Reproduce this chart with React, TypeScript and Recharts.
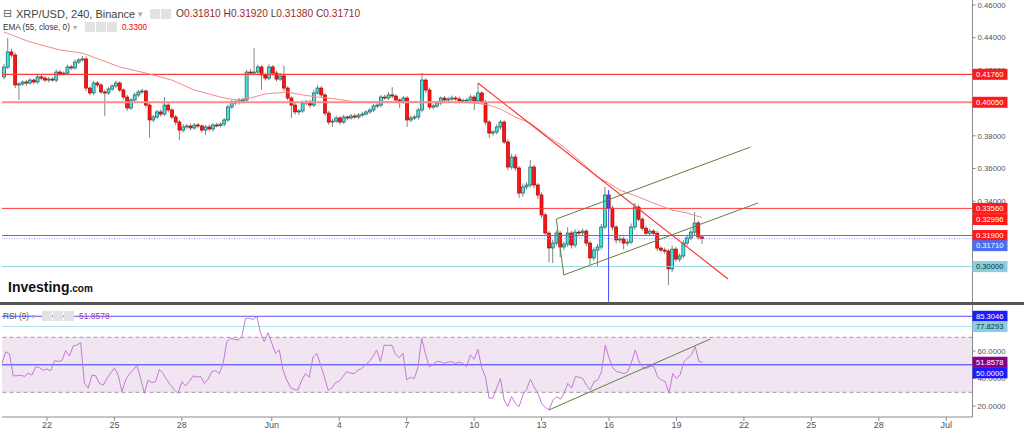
import React from "react";
import { ComposedChart, Bar, Line, XAxis, YAxis, ReferenceLine, ReferenceArea } from "recharts";

// 4h candles, index 0 = May 20 00:00
const FIRST_OPEN = 0.416;
const CLOSE = [
  0.4220, 0.4313, 0.4294, 0.4111, 0.4117, 0.4129, 0.4123, 0.4141, 0.4129, 0.4160,
  0.4153, 0.4141, 0.4147, 0.4141, 0.4190, 0.4178, 0.4184, 0.4221, 0.4215, 0.4251,
  0.4264, 0.4270, 0.4092, 0.4062, 0.4123, 0.4111, 0.4068, 0.4062, 0.4086, 0.4105,
  0.4123, 0.4080, 0.4037, 0.3970, 0.4019, 0.4050, 0.4068, 0.4074, 0.3988, 0.3897,
  0.3915, 0.3946, 0.3933, 0.3988, 0.3958, 0.3915, 0.3884, 0.3835, 0.3854, 0.3860,
  0.3848, 0.3866, 0.3860, 0.3835, 0.3854, 0.3842, 0.3866, 0.3862, 0.3872, 0.3897,
  0.3976, 0.4007, 0.4003, 0.4013, 0.4019, 0.4190, 0.4184, 0.4190, 0.4221, 0.4172,
  0.4153, 0.4221, 0.4184, 0.4147, 0.4166, 0.4092, 0.4031, 0.3988, 0.3946, 0.3952,
  0.4001, 0.4007, 0.3988, 0.4062, 0.4092, 0.4050, 0.3939, 0.3884, 0.3890, 0.3909,
  0.3884, 0.3915, 0.3909, 0.3921, 0.3915, 0.3927, 0.3933, 0.3946, 0.3958, 0.3982,
  0.3988, 0.4037, 0.4031, 0.4050, 0.4043, 0.4019, 0.4007, 0.4031, 0.3897, 0.3909,
  0.3915, 0.3958, 0.4141, 0.4080, 0.3976, 0.3982, 0.4001, 0.4031, 0.4019, 0.4025,
  0.4031, 0.4025, 0.4013, 0.4017, 0.4019, 0.4037, 0.4013, 0.4062, 0.4007, 0.3884,
  0.3817, 0.3823, 0.3854, 0.3884, 0.3762, 0.3609, 0.3670, 0.3603, 0.3450, 0.3487,
  0.3499, 0.3609, 0.3499, 0.3438, 0.3316, 0.3205, 0.3114, 0.3144, 0.3205, 0.3120,
  0.3138, 0.3205, 0.3132, 0.3211, 0.3207, 0.3217, 0.3144, 0.3053, 0.3101, 0.3120,
  0.3242, 0.3438, 0.3358, 0.3242, 0.3163, 0.3169, 0.3144, 0.3150, 0.3242, 0.3364,
  0.3290, 0.3235, 0.3204, 0.3217, 0.3204, 0.3113, 0.3101, 0.3095, 0.2986, 0.3107,
  0.3046, 0.3065, 0.3144, 0.3175, 0.3211, 0.3267, 0.3181, 0.3171,
];
// wick lengths above / below the body, in 0.0001
const WICK_UP = [
  18, 85, 20, 15, 12, 10, 14, 12, 10, 15,
  12, 10, 14, 12, 16, 12, 10, 14, 12, 15,
  12, 18, 15, 10, 14, 12, 10, 14, 12, 10,
  15, 12, 10, 14, 12, 16, 12, 15, 10, 12,
  14, 12, 15, 49, 12, 10, 14, 12, 18, 12,
  15, 12, 14, 10, 12, 15, 12, 14, 10, 12,
  14, 12, 16, 18, 12, 14, 20, 147, 15, 12,
  14, 16, 12, 14, 18, 61, 12, 10, 14, 12,
  15, 12, 14, 20, 18, 12, 10, 14, 12, 15,
  12, 14, 10, 12, 15, 12, 14, 10, 12, 15,
  14, 12, 15, 18, 48, 12, 10, 14, 12, 15,
  12, 14, 43, 12, 15, 14, 12, 10, 14, 12,
  15, 12, 14, 10, 12, 15, 12, 61, 10, 12,
  14, 12, 15, 14, 12, 16, 20, 18, 12, 22,
  18, 43, 14, 12, 16, 14, 12, 20, 18, 14,
  16, 37, 14, 18, 15, 16, 12, 14, 16, 18,
  20, 49, 26, 14, 12, 16, 14, 18, 22, 25,
  14, 12, 16, 14, 12, 14, 12, 16, 14, 22,
  14, 16, 18, 20, 16, 67, 14, 11,
];
const WICK_DN = [
  15, 12, 14, 20, 91, 12, 18, 10, 14, 12,
  14, 12, 15, 10, 14, 12, 10, 14, 12, 10,
  12, 10, 18, 14, 12, 15, 12, 140, 12, 10,
  14, 12, 15, 18, 12, 10, 14, 12, 16, 110,
  14, 12, 16, 12, 14, 12, 18, 61, 14, 12,
  15, 12, 14, 16, 30, 12, 14, 10, 12, 14,
  12, 10, 14, 12, 15, 16, 12, 14, 12, 90,
  14, 12, 16, 14, 12, 18, 14, 79, 16, 20,
  12, 14, 16, 12, 10, 14, 18, 16, 30, 12,
  16, 12, 14, 10, 12, 14, 12, 10, 12, 14,
  12, 14, 10, 12, 14, 16, 37, 12, 43, 14,
  12, 16, 14, 18, 16, 14, 12, 14, 10, 12,
  14, 12, 15, 10, 12, 14, 55, 12, 14, 18,
  30, 16, 14, 18, 14, 20, 16, 18, 30, 22,
  18, 16, 20, 25, 18, 20, 86, 92, 16, 62,
  20, 18, 22, 16, 18, 14, 20, 43, 18, 103,
  16, 14, 18, 20, 22, 18, 40, 16, 14, 18,
  14, 16, 12, 14, 16, 18, 14, 16, 99, 20,
  16, 18, 14, 16, 14, 18, 16, 33,
];
const RSI = [
  51, 59.5, 58, 42, 42, 42.5, 41.5, 44, 42.5, 48.5,
  48, 46, 47, 45.6, 53, 52.5, 53, 60.3, 56.4, 63.7,
  64.4, 66, 36.5, 33, 42.5, 42, 36.5, 35.3, 40, 44,
  47.8, 42.5, 30.5, 39, 43.6, 46, 49.8, 40, 29.3, 39,
  37, 37.8, 46.6, 43.6, 39, 35.3, 31.7, 29.3, 37.8, 34.6,
  38, 42, 41, 41.5, 36.5, 39.5, 45, 45.8, 43.6, 51,
  66.8, 69.3, 68.5, 68, 70.5, 83.8, 83.8, 83, 85, 73,
  66.8, 73.4, 65.6, 58.4, 60.8, 46, 39, 33.5, 32, 31.7,
  39, 43.6, 41, 55.7, 58.4, 50, 41.5, 31.7, 33, 37,
  38, 41.5, 45, 44, 43.6, 46, 47.4, 50, 52.3, 56,
  60.8, 52.3, 64.4, 64, 64.4, 58, 55, 58.4, 39, 41,
  40, 48, 69.3, 58, 48.6, 50, 52.3, 52.3, 51, 52,
  52.3, 51, 52, 51, 48.6, 57.2, 54, 61.3, 48, 41.5,
  25.7, 25.7, 33, 40, 24.5, 19.6, 26.9, 22, 19.6, 28,
  32, 39.5, 34, 29.3, 22, 19, 17.2, 24, 26.9, 25,
  29.3, 36.5, 33, 41.5, 41, 40, 35, 31.7, 37.8, 39,
  45, 64.4, 55, 48, 45, 44.5, 43.6, 45, 52, 60.8,
  52.3, 48, 47.4, 49, 48.6, 41, 39, 37.8, 29.3, 43.6,
  40, 43, 52.3, 55, 57.2, 63.2, 52.3, 51.86,
];
const EMA_AT = [0, 7, 15, 21, 26, 31, 38, 45, 51, 58, 62, 66, 70, 76, 80, 84, 89, 94, 106, 117, 126, 130, 133, 137, 141, 146, 150, 155, 159, 162, 165, 170, 174, 179, 183, 187];
const EMA = [0.4435, 0.4374, 0.4325, 0.4306, 0.4264, 0.4221, 0.4184, 0.4141, 0.4080, 0.4037, 0.4019, 0.4031, 0.4056, 0.4068, 0.4050, 0.4037, 0.4025, 0.4007, 0.4007, 0.4007, 0.4001, 0.3988, 0.3964, 0.3915, 0.3878, 0.3793, 0.3731, 0.3634, 0.3548, 0.3511, 0.3468, 0.3426, 0.3389, 0.3346, 0.3328, 0.3300];

const SLOTS = 260;
const DATE_AT = [12, 30, 48, 72, 90, 108, 126, 144, 162, 180, 198, 216, 234, 252];
const DATE_TXT = ["22", "25", "28", "Jun", "4", "7", "10", "13", "16", "19", "22", "25", "28", "Jul"];
// price ticks that are not hidden behind the level tags
const PRICE_TICKS = [0.28, 0.34, 0.36, 0.38, 0.42, 0.44, 0.46];
const RSI_TICKS = [20, 40, 60];

const data: any[] = Array.from({ length: SLOTS }, (_, i) => {
  if (i >= CLOSE.length) return { i };
  const o = i === 0 ? FIRST_OPEN : CLOSE[i - 1];
  const c = CLOSE[i];
  const h = Math.max(o, c) + WICK_UP[i] / 10000;
  const l = Math.min(o, c) - WICK_DN[i] / 10000;
  return { i, o, c, h, l, range: [l, h], rsi: RSI[i] };
});
EMA_AT.forEach((k, j) => { data[k].ema = EMA[j]; });

const FONT = "'Liberation Sans', Arial, sans-serif";
const W = 1024;
const MARGIN = { top: 0, right: 0, bottom: 0, left: 2 };
const AXIS_W = 51.5;
const OVER_MARGIN = { top: 0, right: AXIS_W, bottom: 0, left: 2 };
const PRICE_DOMAIN = [0.27835, 0.46306];
const RSI_DOMAIN = [12.04, 93.49];

function Candle(props: any) {
  const { x, y, width, height, payload } = props;
  if (!payload || payload.h == null) return null;
  const { o, c, h, l } = payload;
  const top = Math.min(y, y + height);
  const hh = Math.abs(height);
  const cx = x + width / 2;
  const k = hh / (h - l);
  const yO = top + (h - o) * k;
  const yC = top + (h - c) * k;
  const up = c >= o;
  const bt = Math.min(yO, yC);
  const bh = Math.max(Math.abs(yO - yC), 1);
  return (
    <g>
      <line x1={cx} x2={cx} y1={top} y2={top + hh} stroke="#7c8a7c" strokeWidth={1} />
      <rect x={cx - 1.5} y={bt} width={3} height={bh}
        fill={up ? "#3fe6e6" : "#ff1414"} stroke={up ? "#235555" : "#b30000"} strokeWidth={0.7} />
    </g>
  );
}

function Tag(props: any) {
  const { viewBox, text, bg, fg = "#fff", dy = 0 } = props;
  if (!viewBox) return null;
  const x = viewBox.x + viewBox.width;
  const y = viewBox.y + dy;
  return (
    <g>
      <rect x={x} y={y - 5.5} width={35} height={11} fill={bg} />
      <text x={x + 3.5} y={y + 2.8} fill={fg} fontSize={7.6} fontFamily={FONT}>{text}</text>
    </g>
  );
}

function Icons({ n, left, top }: { n: number; left: number; top: number }) {
  return (
    <div style={{ position: "absolute", left, top, display: "flex", gap: 1 }}>
      {Array.from({ length: n }, (_, k) => (
        <span key={k} style={{ width: 10, height: 10, background: "#e2e2e2", display: "inline-block" }} />
      ))}
    </div>
  );
}

const abs = (left: number, top: number, extra: any = {}) =>
  ({ position: "absolute", left, top, whiteSpace: "nowrap", ...extra } as React.CSSProperties);

export default function App() {
  const tick = { fill: "#555", fontSize: 7.8, fontFamily: FONT };
  const val = { color: "#9b2a2a" };
  return (
    <div style={{ position: "absolute", left: 0, top: 0, width: W, height: 431, background: "#fff", fontFamily: FONT, overflow: "hidden" }}>
      {/* price panel */}
      <ComposedChart width={W} height={302} data={data} margin={MARGIN} barCategoryGap={0} style={{ position: "absolute", left: 0, top: 0 }}>
        <XAxis dataKey="i" hide />
        <YAxis orientation="right" width={AXIS_W} domain={PRICE_DOMAIN} allowDataOverflow ticks={PRICE_TICKS}
          tickFormatter={(v: number) => v.toFixed(5)} tick={tick} tickSize={3} tickMargin={2}
          axisLine={{ stroke: "#8a8a8a" }} tickLine={{ stroke: "#8a8a8a" }} />
        <ReferenceLine y={0.4176} stroke="#ff3b3b" strokeWidth={1.3} />
        <ReferenceLine y={0.4005} stroke="#ff8a8a" strokeWidth={2} />
        <ReferenceLine y={0.3356} stroke="#ff3b3b" strokeWidth={1} />
        <ReferenceLine y={0.319} stroke="#ff3b3b" strokeWidth={1} />
        <ReferenceLine y={0.3171} stroke="#8ea2ff" strokeDasharray="1 1.5" />
        <ReferenceLine y={0.3} stroke="#8fd3e2" strokeWidth={1} />
        <ReferenceLine segment={[{ x: 162, y: 0.3469 }, { x: 162, y: 0.2785 }]} stroke="#4a4aff" strokeWidth={1} />
        <Bar dataKey="range" shape={<Candle />} isAnimationActive={false} />
        <Line dataKey="ema" stroke="#f48a8a" strokeWidth={1} dot={false} connectNulls isAnimationActive={false} />
        <ReferenceLine segment={[{ x: 127, y: 0.4123 }, { x: 194, y: 0.2924 }]} stroke="#ff2e2e" strokeWidth={1.1} />
        <ReferenceLine segment={[{ x: 148, y: 0.3291 }, { x: 200, y: 0.3731 }]} stroke="#5f7f45" strokeWidth={1} />
        <ReferenceLine segment={[{ x: 150, y: 0.2949 }, { x: 202, y: 0.3389 }]} stroke="#5f7f45" strokeWidth={1} />
        <ReferenceLine segment={[{ x: 148, y: 0.3291 }, { x: 150, y: 0.2949 }]} stroke="#5f7f45" strokeWidth={1} />
      </ComposedChart>
      {/* price tags, drawn over the axis labels */}
      <ComposedChart width={W} height={302} data={data} margin={OVER_MARGIN} style={{ position: "absolute", left: 0, top: 0 }}>
        <XAxis dataKey="i" hide />
        <YAxis hide domain={PRICE_DOMAIN} allowDataOverflow />
        <ReferenceLine y={0.4176} strokeOpacity={0} label={<Tag text="0.41760" bg="#ff1a1a" />} />
        <ReferenceLine y={0.4005} strokeOpacity={0} label={<Tag text="0.40050" bg="#ff1a1a" />} />
        <ReferenceLine y={0.3356} strokeOpacity={0} label={<Tag text="0.33560" bg="#ff1a1a" />} />
        <ReferenceLine y={0.33} strokeOpacity={0} label={<Tag text="0.32996" bg="#ff1a1a" dy={2} />} />
        <ReferenceLine y={0.319} strokeOpacity={0} label={<Tag text="0.31900" bg="#ff1a1a" />} />
        <ReferenceLine y={0.3171} strokeOpacity={0} label={<Tag text="0.31710" bg="#4a6ef0" dy={7} />} />
        <ReferenceLine y={0.3} strokeOpacity={0} label={<Tag text="0.30000" bg="#86d0df" fg="#1a2a30" />} />
      </ComposedChart>

      <div style={{ position: "absolute", left: 0, top: 302, width: W, height: 3, background: "#555" }} />

      {/* RSI panel */}
      <ComposedChart width={W} height={126} data={data} margin={MARGIN} style={{ position: "absolute", left: 0, top: 305 }}>
        <XAxis dataKey="i" ticks={DATE_AT} interval={0} height={14}
          tickFormatter={(v: number) => DATE_TXT[DATE_AT.indexOf(v)]}
          tick={{ fill: "#555", fontSize: 9, fontFamily: FONT }} tickSize={4} tickMargin={1}
          axisLine={{ stroke: "#8a8a8a" }} tickLine={{ stroke: "#8a8a8a" }} />
        <YAxis orientation="right" width={AXIS_W} domain={RSI_DOMAIN} allowDataOverflow ticks={RSI_TICKS}
          tickFormatter={(v: number) => v.toFixed(4)} tick={tick} tickSize={3} tickMargin={2}
          axisLine={{ stroke: "#8a8a8a" }} tickLine={{ stroke: "#8a8a8a" }} />
        <ReferenceArea y1={30} y2={70} fill="#800080" fillOpacity={0.1} stroke="none" />
        <ReferenceLine y={70} stroke="#9a9a9a" strokeDasharray="4 3" />
        <ReferenceLine y={30} stroke="#9a9a9a" strokeDasharray="4 3" />
        <ReferenceLine y={85.3046} stroke="#5050ff" strokeWidth={1} />
        <ReferenceLine y={77.8293} stroke="#ace3ec" strokeWidth={1} />
        <ReferenceLine y={50} stroke="#3333ff" strokeWidth={1} />
        <Line dataKey="rsi" stroke="#c27ad3" strokeWidth={1} dot={false} isAnimationActive={false} />
        <ReferenceLine segment={[{ x: 146, y: 17.2 }, { x: 189, y: 68.7 }]} stroke="#5f7f45" strokeWidth={1} />
      </ComposedChart>
      <ComposedChart width={W} height={112} data={data} margin={OVER_MARGIN} style={{ position: "absolute", left: 0, top: 305 }}>
        <XAxis dataKey="i" hide />
        <YAxis hide domain={RSI_DOMAIN} allowDataOverflow />
        <ReferenceLine y={85.3046} strokeOpacity={0} label={<Tag text="85.3046" bg="#1c1cff" />} />
        <ReferenceLine y={77.8293} strokeOpacity={0} label={<Tag text="77.8293" bg="#86d0df" fg="#1a2a30" />} />
        <ReferenceLine y={51.8578} strokeOpacity={0} label={<Tag text="51.8578" bg="#880088" />} />
        <ReferenceLine y={50} strokeOpacity={0} label={<Tag text="50.0000" bg="#1c1cff" dy={8} />} />
      </ComposedChart>

      {/* legends */}
      <div style={abs(3, 6, { fontFamily: "'DejaVu Sans'", fontSize: 11, color: "#666", lineHeight: "16px" })}>⊟</div>
      <div style={abs(16, 6, { fontSize: 11, color: "#444", lineHeight: "16px" })}>XRP/USD, 240, Binance</div>
      <div style={abs(138, 6, { fontSize: 9, color: "#aaa", lineHeight: "16px" })}>▾</div>
      <Icons n={2} left={150} top={9} />
      <div style={abs(176, 6, { fontSize: 10.2, color: "#444", lineHeight: "16px" })}>
        O<span style={val}>0.31810</span>{" "}
        H<span style={val}>0.31920</span>{" "}
        L<span style={val}>0.31380</span>{" "}
        C<span style={val}>0.31710</span>
      </div>
      <div style={abs(3, 21, { fontSize: 8.2, color: "#333", lineHeight: "13px" })}>EMA (55, close, 0)</div>
      <div style={abs(73, 21, { fontSize: 8, color: "#aaa", lineHeight: "13px" })}>▾</div>
      <Icons n={3} left={85} top={22} />
      <div style={abs(122, 21, { fontSize: 8.2, color: "#e00", lineHeight: "13px" })}>0.3300</div>

      <div style={abs(3, 310, { fontSize: 8.2, color: "#555", lineHeight: "13px" })}>RSI (9)</div>
      <div style={abs(31, 310, { fontSize: 8, color: "#aaa", lineHeight: "13px" })}>▾</div>
      <Icons n={3} left={42} top={311} />
      <div style={abs(79, 310, { fontSize: 8.5, color: "#a23cb8", lineHeight: "13px" })}>51.8578</div>

      <div style={abs(8, 278, { color: "#111", lineHeight: "18px" })}>
        <span style={{ fontSize: 14, fontWeight: 700 }}>Investing</span>
        <span style={{ fontSize: 10, fontWeight: 700 }}>.com</span>
      </div>
    </div>
  );
}
